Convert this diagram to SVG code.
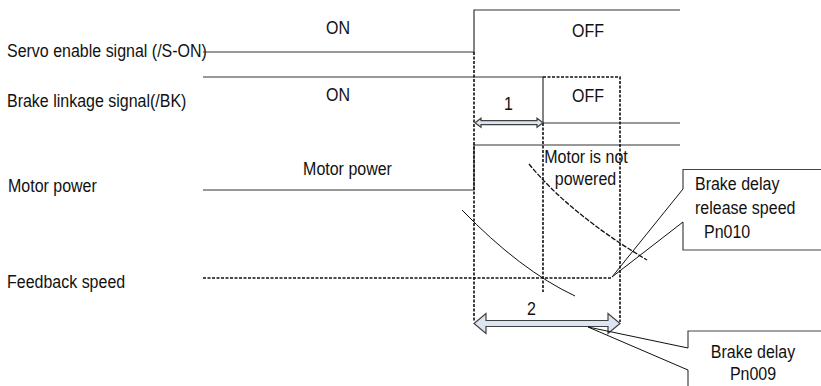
<svg xmlns="http://www.w3.org/2000/svg" width="821" height="386" viewBox="0 0 821 386">
<style>
  text { font-family: "Liberation Sans", Arial, sans-serif; font-size: 16px; fill: #111; }
  .mid { text-anchor: middle; }
  .sig { fill: none; stroke: #333; stroke-width: 1.2; }
  .dash { fill: none; stroke: #111; stroke-width: 1.6; stroke-dasharray: 3 1.5; }
  .dashh { fill: none; stroke: #111; stroke-width: 1.3; stroke-dasharray: 3 1.5; }
  .curve { fill: none; stroke: #111; stroke-width: 1; }
  .curved { fill: none; stroke: #111; stroke-width: 1.3; stroke-dasharray: 5 1.5; }
  .lead { fill: none; stroke: #111; stroke-width: 1; }
  .box { fill: none; stroke: #444; stroke-width: 1.2; }
  .dim { fill: #dce6f2; stroke: #404040; stroke-width: 1.2; stroke-linejoin: miter; }
</style>
<rect width="821" height="386" fill="#fff"/>

<g id="row-labels">
  <text transform="translate(7,57) scale(1,1.12)">Servo enable signal (/S-ON)</text>
  <text transform="translate(7,107) scale(1,1.12)">Brake linkage signal(/BK)</text>
  <text transform="translate(8,192) scale(1,1.12)">Motor power</text>
  <text transform="translate(7,288) scale(1,1.12)">Feedback speed</text>
</g>

<g id="servo-enable">
  <polyline class="sig" points="203,52 474,52 474,10 680,10"/>
  <text class="mid" transform="translate(338,34) scale(1,1.12)">ON</text>
  <text class="mid" transform="translate(588,37) scale(1,1.12)">OFF</text>
</g>

<g id="brake-linkage">
  <polyline class="sig" points="203,77 543,77 543,123 680,123"/>
  <text class="mid" transform="translate(338,101) scale(1,1.12)">ON</text>
  <text class="mid" transform="translate(588,101.5) scale(1,1.12)">OFF</text>
</g>

<g id="motor-power">
  <polyline class="sig" points="203,190 474,190 474,145 680,145"/>
  <text class="mid" transform="translate(347.5,175) scale(1,1.12)">Motor power</text>
  <text class="mid" transform="translate(586,162.5) scale(1,1.12)">Motor is not</text>
  <text class="mid" transform="translate(585.5,185) scale(1,1.12)">powered</text>
</g>

<g id="feedback-speed">
  <path class="dashh" d="M203,278 H612"/>
  <path class="curve" d="M462,210 Q520,270 575,296"/>
  <path class="curved" d="M529,164 Q570,214 647,260"/>
</g>

<g id="callout-pn010">
  <rect x="683" y="169.5" width="140" height="80.5" fill="#fff" stroke="none"/>
  <path class="box" d="M821,169.5 H683 V189 M683,222 V250 H821"/>
  <text transform="translate(695,190) scale(1,1.12)">Brake delay</text>
  <text transform="translate(695,213.5) scale(1,1.12)">release speed</text>
  <text transform="translate(704,238) scale(1,1.12)">Pn010</text>
</g>

<g id="callout-pn009">
  <rect x="688" y="331" width="135" height="57" fill="#fff" stroke="none"/>
  <path class="box" d="M821,331 H688 V348 M688,370 V388"/>
  <text class="mid" transform="translate(753,357.5) scale(1,1.12)">Brake delay</text>
  <text class="mid" transform="translate(753,380) scale(1,1.12)">Pn009</text>
</g>

<g id="connectors">
  <path class="dash" d="M474,52 V322"/>
  <path class="dash" d="M543,123 V292"/>
  <path class="dash" d="M543,77 H620 V322"/>
  <polygon class="dim" points="475,122.7 481,118.2 481,120.7 537,120.7 537,118.2 543,122.7 537,127.2 537,124.7 481,124.7 481,127.2"/>
  <text class="mid" transform="translate(508.5,110) scale(1,1.12)">1</text>
  <polygon class="dim" points="474,323.5 486,313.5 486,320.5 608,320.5 608,313.5 620,323.5 608,333.5 608,326.5 486,326.5 486,333.5"/>
  <text class="mid" transform="translate(531.5,315) scale(1,1.12)">2</text>
  <path class="lead" d="M612,277 L683,189 M612,277 L683,222"/>
  <path class="lead" d="M588,327 L688,348 M588,327 L688,370"/>
</g>
</svg>
